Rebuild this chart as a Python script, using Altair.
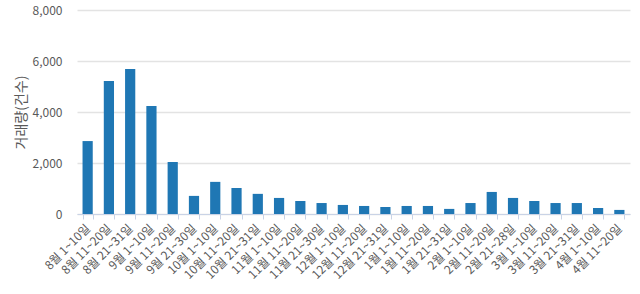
import altair as alt
import pandas as pd

periods = ["8월 1~10일", "8월 11~20일", "8월 21~31일",
           "9월 1~10일", "9월 11~20일", "9월 21~30일",
           "10월 1~10일", "10월 11~20일", "10월 21~31일",
           "11월 1~10일", "11월 11~20일", "11월 21~30일",
           "12월 1~10일", "12월 11~20일", "12월 21~31일",
           "1월 1~10일", "1월 11~20일", "1월 21~31일",
           "2월 1~10일", "2월 11~20일", "2월 21~28일",
           "3월 1~10일", "3월 11~20일", "3월 21~31일",
           "4월 1~10일", "4월 11~20일"]
counts = [2860, 5220, 5690, 4240, 2040, 710, 1260, 1020, 790, 630, 510, 430,
          355, 315, 275, 315, 315, 200, 430, 865, 630, 510, 430, 430, 235, 160]

df = pd.DataFrame({"period": periods, "count": counts})

font = "Noto Sans CJK KR"

chart = alt.Chart(df).mark_bar(color="#1f77b4").encode(
    x=alt.X("period:N", sort=periods, title=None,
            scale=alt.Scale(paddingInner=0.52, paddingOuter=0.26),
            axis=alt.Axis(labelAngle=-45, labelAlign="right", labelBaseline="middle",
                          labelFontSize=12, labelColor="#595959", labelFont=font,
                          domainColor="#c9d3e6", tickColor="#c9d3e6", tickSize=5,
                          tickBand="extent", labelPadding=7, grid=False)),
    y=alt.Y("count:Q", title="거래량(건수)",
            scale=alt.Scale(domain=[0, 8000]),
            axis=alt.Axis(values=[0, 2000, 4000, 6000, 8000], format=",.0f",
                          labelFontSize=12, labelColor="#595959", labelFont=font,
                          titleFont=font, titleFontSize=14, titleFontWeight="normal",
                          titleColor="#595959", titlePadding=4,
                          ticks=False, domain=False, labelPadding=15,
                          gridColor="#e3e3e3", gridWidth=1.5)),
).properties(
    width=553, height=204,
    padding={"left": 77, "top": 10, "right": 10, "bottom": 80},
    autosize=alt.AutoSizeParams(type="none"),
).configure_view(stroke=None)

chart.save("out.html", embed_options={"renderer": "svg", "actions": False})
